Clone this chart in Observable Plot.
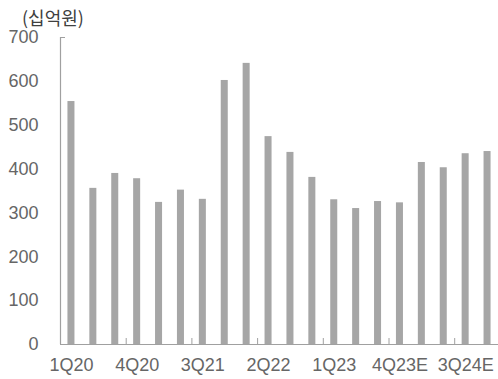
<!DOCTYPE html>
<html>
<head>
<meta charset="utf-8">
<script src="https://cdn.jsdelivr.net/npm/d3@7"></script>
<script src="https://cdn.jsdelivr.net/npm/@observablehq/plot@0.6"></script>
<style>
  html, body { margin: 0; padding: 0; background: #fff; }
  #wrap { width: 498px; height: 379px; overflow: hidden; }
  #title { height: 28px; box-sizing: border-box; padding: 6px 0 0 22px; line-height: 22px;
           font-family: "Noto Sans CJK KR", sans-serif; font-size: 18px; color: #404040; }
</style>
</head>
<body>
<div id="wrap">
  <div id="title">(십억원)</div>
  <div id="chart"></div>
</div>
<script>
const quarters = ["1Q20","2Q20","3Q20","4Q20","1Q21","2Q21","3Q21","4Q21","1Q22","2Q22","3Q22","4Q22","1Q23","2Q23","3Q23","4Q23E","1Q24E","2Q24E","3Q24E","4Q24E"];
const values = [554,356,390,378,324,352,331,602,641,474,438,381,330,310,326,323,415,403,435,440];
const xTickLabels = ["1Q20","4Q20","3Q21","2Q22","1Q23","4Q23E","3Q24E"];
const xBoundaryTicks = ["4Q20","3Q21","2Q22","1Q23","4Q23E","3Q24E"];
const yTicks = [0,100,200,300,400,500,600,700];

const data = quarters.map((q, i) => ({q, v: values[i]}));

const W = 498, ML = 60, MR = 0;
const step = (W - ML - MR) / quarters.length;
const axisColor = "#a0a0a0";
const textColor = "#666666";
const fs = 18;

const chart = Plot.plot({
  width: W,
  height: 351,
  marginTop: 9,
  marginLeft: ML,
  marginRight: MR,
  marginBottom: 35,
  style: {fontFamily: "'Liberation Sans', Arial, sans-serif", fontSize: "18px", color: textColor, background: "#fff"},
  x: {domain: quarters, paddingInner: 0.68, paddingOuter: 0.34, round: false, label: null},
  y: {domain: [0, 700], label: null},
  marks: [
    Plot.barY(data, {x: "q", y: "v", fill: "#a6a6a6"}),
    Plot.ruleY([0], {stroke: axisColor, strokeWidth: 1.2}),
    Plot.ruleX([quarters[0]], {y1: 0, y2: 700, dx: -step / 2, stroke: axisColor, strokeWidth: 1.2}),
    Plot.axisY(yTicks, {tickSize: 0, tickPadding: 22, fill: textColor, fontSize: fs}),
    Plot.axisY([700], {tickSize: -5, text: null, stroke: axisColor}),
    Plot.axisX(xTickLabels, {tickSize: 0, tickPadding: 14, fill: textColor, fontSize: fs}),
    Plot.axisX(xBoundaryTicks, {tickSize: -6, text: null, dx: -step / 2, stroke: axisColor})
  ]
});
document.getElementById("chart").appendChild(chart);
</script>
</body>
</html>
